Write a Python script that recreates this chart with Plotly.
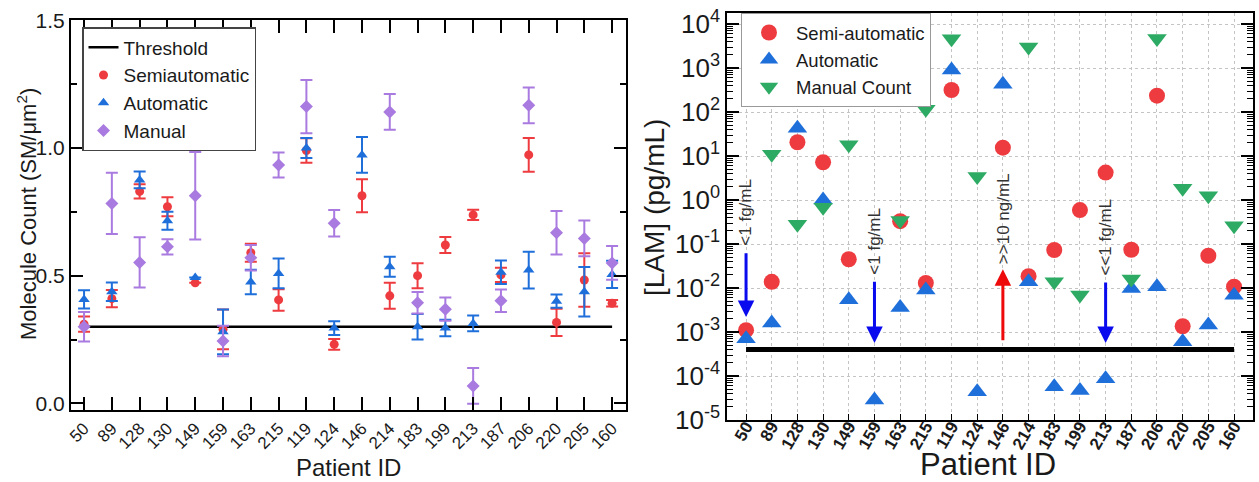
import math
import plotly.graph_objects as go

# Patient order shared by both panels
patient_ids = ["50", "89", "128", "130", "149", "159", "163", "215", "119", "124",
               "146", "214", "183", "199", "213", "187", "206", "220", "205", "160"]

# Molecule counts (SM/um^2) and their error bars
semi_count = [0.31, 0.41, 0.83, 0.77, 0.472, 0.29, 0.59, 0.405, 0.99, 0.231,
              0.813, 0.421, 0.50, 0.62, 0.738, 0.503, 0.973, 0.317, 0.483, 0.392]
semi_count_err = [0.03, 0.034, 0.028, 0.037, None, 0.078, 0.035, 0.042, 0.048, 0.021,
                  0.065, 0.051, 0.049, 0.031, 0.02, 0.028, 0.066, 0.053, 0.105, 0.013]
auto_count = [0.407, 0.437, 0.875, 0.715, 0.493, 0.28, 0.475, 0.509, 1.0, 0.295,
              0.973, 0.535, 0.30, 0.295, 0.313, 0.513, 0.522, 0.40, 0.437, 0.505]
auto_count_err = [0.036, 0.036, 0.033, 0.035, None, 0.088, 0.048, 0.058, 0.039, 0.027,
                  0.07, 0.039, 0.05, 0.032, 0.031, 0.046, 0.072, 0.026, 0.097, 0.053]
manual_count = [0.30, 0.783, 0.552, 0.613, 0.813, 0.244, 0.57, 0.933, 1.162, 0.705,
                None, 1.141, 0.394, 0.369, 0.068, 0.402, 1.167, 0.668, 0.646, 0.55]
manual_count_err = [0.058, 0.12, 0.098, 0.03, 0.171, 0.06, 0.05, 0.049, 0.104, 0.052,
                    None, 0.07, 0.042, 0.046, 0.07, 0.044, 0.07, 0.085, 0.07, 0.066]
threshold_count = 0.30

# LAM concentrations (pg/mL)
semi_lam = [1.1e-3, 0.0138, 20.5, 7.2, 0.045, None, 0.33, 0.013, 316, None,
            15.5, 0.0186, 0.073, 0.59, 4.2, 0.074, 235, 1.35e-3, 0.054, 0.0107]
auto_lam = [7e-4, 1.6e-3, 43, 1.0, 5.4e-3, 2.85e-5, 3.6e-3, 9e-3, 900, 4.4e-5,
            430, 0.0138, 5.7e-5, 4.7e-5, 8.7e-5, 0.0098, 0.0107, 6e-4, 1.45e-3, 6.8e-3]
manual_lam = [None, 11, 0.28, 0.68, 18, None, 0.34, 115, 4600, 3.4,
              None, 3000, 0.0138, 0.0069, None, 0.016, 4700, 1.85, 1.25, 0.26]
threshold_lam = 4e-4

# Out-of-range notes: (patient, label, arrow tail, arrow head, colour)
range_notes = [
    ("50", "&lt;1 fg/mL", 0.067, 0.0022, "#0a0aee"),
    ("159", "&lt;1 fg/mL", 0.015, 5.6e-4, "#0a0aee"),
    ("146", "&gt;&gt;10 ng/mL", 6e-4, 0.0266, "#ee0a0a"),
    ("213", "&lt;&lt;1 fg/mL", 0.0145, 5.6e-4, "#0a0aee"),
]

RED = "#EE3B3F"
BLUE = "#1F6FDB"
PURPLE = "#A97ADF"
GREEN = "#2DAA63"
FONT = "Liberation Sans, Arial, sans-serif"
INK = "#1a1a1a"

W, H = 1259, 482

fig = go.Figure()

# ---- left panel: molecule counts ----
fig.add_trace(go.Scatter(
    x=[patient_ids[0], patient_ids[-1]], y=[threshold_count, threshold_count],
    mode="lines", line=dict(color="black", width=2.5), name="Threshold",
    xaxis="x", yaxis="y", legend="legend"))


def count_trace(vals, errs, name, color, symbol, size):
    return go.Scatter(
        x=patient_ids, y=vals, mode="markers", name=name,
        marker=dict(color=color, symbol=symbol, size=size),
        error_y=dict(type="data", array=errs, visible=True, color=color,
                     thickness=2, width=6),
        xaxis="x", yaxis="y", legend="legend")


fig.add_trace(count_trace(semi_count, semi_count_err, "Semiautomatic", RED, "circle", 9))
fig.add_trace(count_trace(auto_count, auto_count_err, "Automatic", BLUE, "triangle-up", 10))
fig.add_trace(count_trace(manual_count, manual_count_err, "Manual", PURPLE, "diamond", 10))

# ---- right panel: LAM concentration ----
fig.add_trace(go.Scatter(
    x=[patient_ids[0], patient_ids[-1]], y=[threshold_lam, threshold_lam],
    mode="lines", line=dict(color="black", width=5), showlegend=False,
    xaxis="x2", yaxis="y2"))

for vals, name, color, symbol, size in [
    (semi_lam, "Semi-automatic", RED, "circle", 16),
    (auto_lam, "Automatic", BLUE, "triangle-up", 17),
    (manual_lam, "Manual Count", GREEN, "triangle-down", 17),
]:
    fig.add_trace(go.Scatter(
        x=patient_ids, y=vals, mode="markers", name=name,
        marker=dict(color=color, symbol=symbol, size=size),
        xaxis="x2", yaxis="y2", legend="legend2"))

annotations = []
for pid, label, tail, head, color in range_notes:
    idx = patient_ids.index(pid)
    annotations.append(dict(
        x=idx, y=math.log10(head), ax=idx, ay=math.log10(tail),
        xref="x2", yref="y2", axref="x2", ayref="y2",
        text="", showarrow=True, arrowhead=2, arrowsize=1.1,
        arrowwidth=3, arrowcolor=color))
    top = max(tail, head)
    annotations.append(dict(
        x=idx, y=math.log10(top) + 0.08, xref="x2", yref="y2",
        text=label, showarrow=False, textangle=-90,
        xanchor="center", yanchor="bottom",
        font=dict(family=FONT, size=17, color="#333")))

# axis titles, placed in figure pixels
def paper_text(text, px, py, size, angle=0):
    return dict(text=text, x=px / W, y=1 - py / H, xref="paper", yref="paper",
                xanchor="center", yanchor="middle", showarrow=False,
                textangle=angle, font=dict(family=FONT, size=size, color=INK))


annotations += [
    paper_text("Molecule Count (SM/\u03bcm<sup>2</sup>)", 27, 214, 22, -90),
    paper_text("Patient ID", 348, 467, 24),
    paper_text("[LAM] (pg/mL)", 654, 208, 28, -90),
    paper_text("Patient ID", 988, 464.5, 31),
]

exps = list(range(-5, 5))
log_tickvals = [10.0 ** e for e in exps]
log_ticktext = [f"10<sup>{e}</sup>" for e in exps]
log_minor = [m * 10.0 ** e for e in exps[:-1] for m in range(2, 10)]

fig.update_layout(
    width=W, height=H,
    margin=dict(l=0, r=0, t=0, b=0),
    paper_bgcolor="white", plot_bgcolor="white",
    font=dict(family=FONT, color=INK),
    showlegend=True,
    xaxis=dict(
        domain=[71 / W, 626 / W], type="category", categoryorder="array",
        categoryarray=patient_ids, range=[-0.47, 19.5], automargin=False,
        showline=True, linecolor="black", linewidth=2, mirror="ticks",
        ticks="inside", ticklen=13, tickwidth=2, tickcolor="black",
        tickangle=-45, tickfont=dict(size=17, color=INK),
        showgrid=False, zeroline=False),
    yaxis=dict(
        domain=[1 - 410 / H, 1 - 20.3 / H], range=[-0.026, 1.5], automargin=False,
        tickvals=[0, 0.5, 1.0, 1.5], ticktext=["0.0", "0.5", "1.0", "1.5"],
        showline=True, linecolor="black", linewidth=2, mirror="ticks",
        ticks="inside", ticklen=12, tickwidth=2, tickcolor="black",
        minor=dict(ticks="inside", ticklen=6, tickwidth=1.5, tickcolor="black",
                   tickvals=[0.25, 0.75, 1.25], showgrid=False),
        tickfont=dict(size=21, color=INK),
        showgrid=False, zeroline=False),
    xaxis2=dict(
        domain=[727.3 / W, 1253.3 / W], type="category", categoryorder="array",
        categoryarray=patient_ids, range=[-0.73, 19.75], automargin=False,
        anchor="y2",
        showline=True, linecolor="black", linewidth=2, mirror=True,
        ticks="inside", ticklen=6, tickwidth=1, tickcolor="black",
        tickangle=-60, tickfont=dict(size=17, color=INK, weight="bold"),
        ticklabelstandoff=-12,
        showgrid=True, gridcolor="#c4c4c4", gridwidth=1, griddash="dot",
        zeroline=False),
    yaxis2=dict(
        domain=[1 - 420 / H, 1 - 13 / H], type="log", range=[-5, 4.25],
        anchor="x2", automargin=False,
        tickmode="array", tickvals=log_tickvals, ticktext=log_ticktext,
        showline=True, linecolor="black", linewidth=2, mirror="ticks",
        ticks="inside", ticklen=12, tickwidth=2, tickcolor="black",
        minor=dict(ticks="inside", ticklen=6, tickwidth=1, tickcolor="black",
                   tickmode="array", tickvals=log_minor, showgrid=False),
        tickfont=dict(size=26, color=INK),
        showgrid=True, gridcolor="#c4c4c4", gridwidth=1, griddash="dot",
        zeroline=False),
    legend=dict(
        x=82 / W, y=1 - 27 / H, xanchor="left", yanchor="top",
        bgcolor="white", bordercolor="#444", borderwidth=1.5,
        font=dict(size=19, color=INK), tracegroupgap=0, itemwidth=30),
    legend2=dict(
        x=741 / W, y=1 - 13 / H, xanchor="left", yanchor="top",
        bgcolor="white", bordercolor="#999", borderwidth=1,
        font=dict(size=18.5, color=INK), itemwidth=44),
    annotations=annotations,
)

fig.write_html("out.html")
